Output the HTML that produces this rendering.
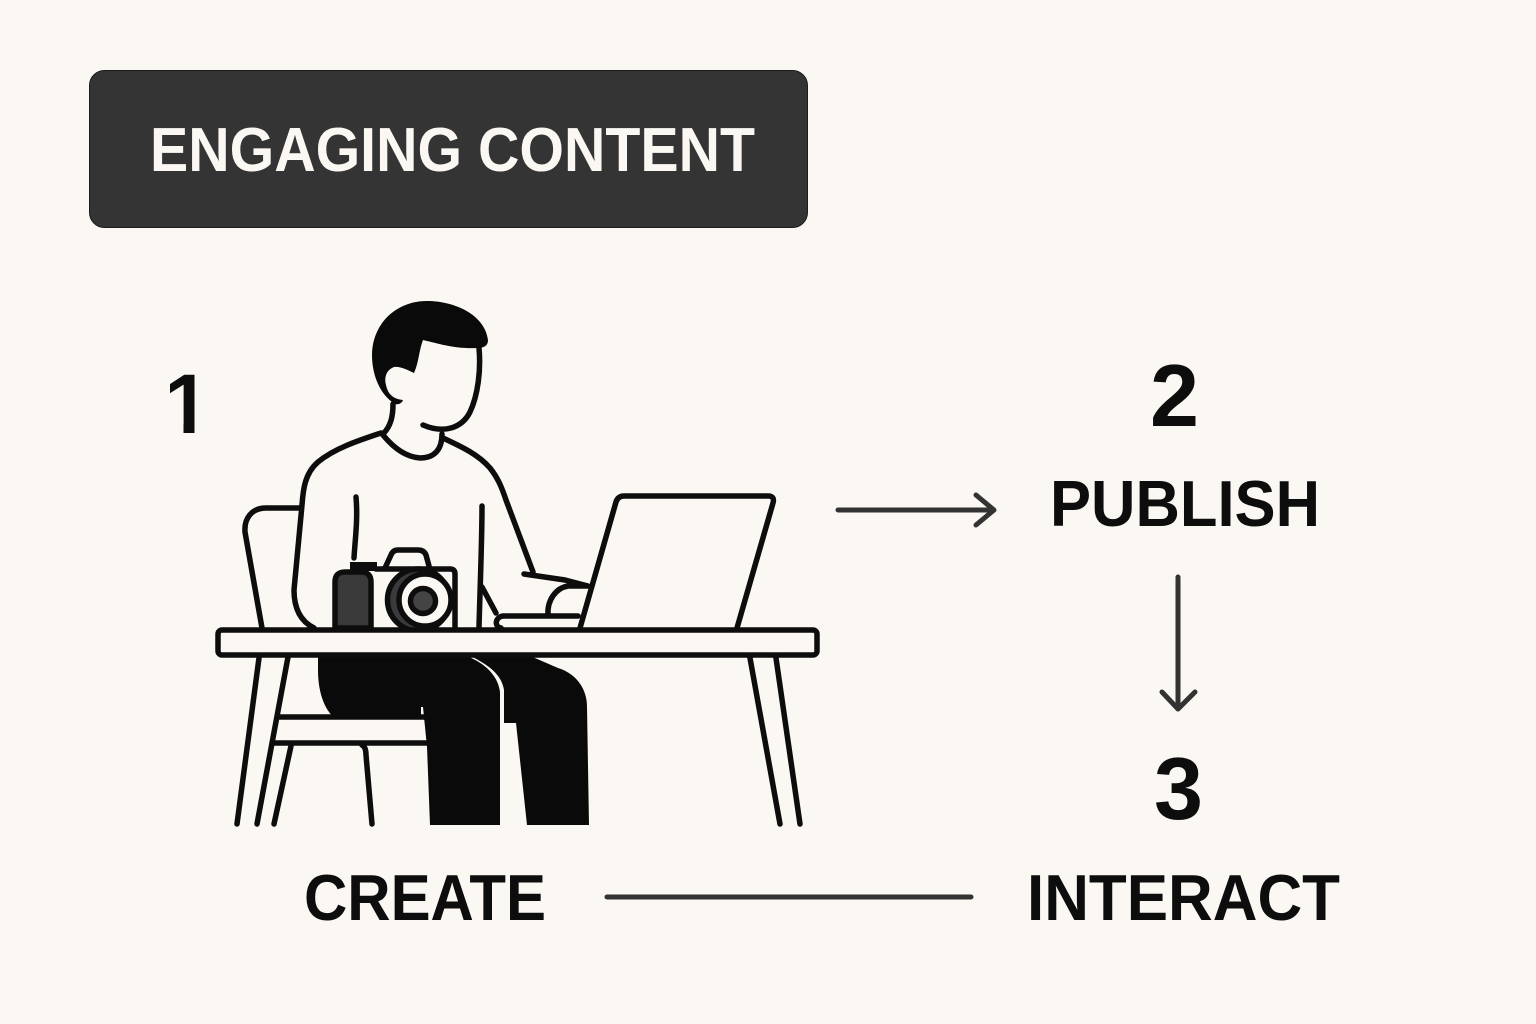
<!DOCTYPE html>
<html><head><meta charset="utf-8"><style>
html,body{margin:0;padding:0;background:#fbf7f2;width:1536px;height:1024px;overflow:hidden}
svg{display:block}
text{font-family:"Liberation Sans",sans-serif;font-weight:700;fill:#0d0d0d}
.l{fill:none;stroke:#0d0d0d;stroke-width:5.5;stroke-linecap:round;stroke-linejoin:round}
.a{fill:none;stroke:#333;stroke-width:5;stroke-linecap:round;stroke-linejoin:round}
.k{fill:#0a0a0a;stroke:none}
</style></head><body>
<svg width="1536" height="1024" viewBox="0 0 1536 1024" xmlns="http://www.w3.org/2000/svg">
<defs><clipPath id="one"><path d="M170 360H194.5V436H183.5V396H170Z"/></clipPath></defs>
<rect width="1536" height="1024" fill="#fbf7f2"/>
<rect x="89.5" y="70.5" width="718" height="157" rx="15" fill="#343434" stroke="#1c1c1c" stroke-width="1"/>
<text x="150" y="171" font-size="62" textLength="605" lengthAdjust="spacingAndGlyphs" style="fill:#fbf7f2">ENGAGING CONTENT</text>

<text x="164" y="433" font-size="84" clip-path="url(#one)">1</text>
<text x="1150" y="426" font-size="88" textLength="49" lengthAdjust="spacingAndGlyphs">2</text>
<text x="1154" y="819" font-size="88" textLength="49" lengthAdjust="spacingAndGlyphs">3</text>
<text x="1050" y="526" font-size="65" textLength="270" lengthAdjust="spacingAndGlyphs">PUBLISH</text>
<text x="304" y="920" font-size="65" textLength="242" lengthAdjust="spacingAndGlyphs">CREATE</text>
<text x="1027" y="920" font-size="65" textLength="313" lengthAdjust="spacingAndGlyphs">INTERACT</text>

<path class="a" d="M838 510H993M976 495L994 510L976 525"/>
<path class="a" d="M1178 577V708M1162 692L1178 709L1195 692"/>
<path class="a" d="M607 897H971"/>

<!-- chair -->
<path class="l" d="M300 508H266C252 508 244 518 245 532L262 628"/>
<path class="l" d="M288 657L257 824"/>
<path class="l" d="M279 717H425M273 743H427"/>
<path class="l" d="M291 746L274 824M362 745Q366 747 366 755L372 824"/>

<!-- person pants -->
<path class="k" d="M318 655H528L558 668C572 672 587 685 587 707L589 825H527L516 723H504V690C502 675 488 664 471 657C486 665 498 676 500 692V825H430L427 747L423 707H421V719H336C326 712 318 695 318 670Z"/>
<path d="M471 657C488 665 501 678 502 692V723" fill="none" stroke="#fbf7f2" stroke-width="1.5"/>

<!-- body -->
<path class="l" d="M381 433C360 440 335 448 318 462C304 474 303 492 302 505L294 590C294 610 302 622 314 628"/>
<path class="l" d="M443 438C460 446 478 454 490 468C498 478 502 488 506 500L533 572"/>
<path class="l" d="M383 435C392 446 405 457 420 458C432 458 442 452 442 434"/>
<path class="l" d="M393 404C393 416 391 426 383 434"/>
<path class="l" d="M479 348C481 370 478 395 470 412C462 428 444 434 423 425"/>
<path class="k" d="M427 301C455 301 485 315 488 340C488 346 484 348 477 348C455 349 440 344 423 340C419 350 419 362 414 373C408 370 400 366 394 367C386 370 384 378 386 385C388 395 394 399 403 400C402 403 399 405 395 404C380 395 372 375 372 355C372 325 395 301 427 301Z"/>
<path class="l" stroke-linecap="butt" d="M356 497C358 520 355 540 354 558"/>
<path class="l" d="M482 506C482 540 480 590 479 627"/>
<path class="l" d="M482 587L496 613"/>
<path class="l" d="M524 574L565 580L588 586H568C556 588 547 600 548 615"/>
<path class="l" d="M578 616H503C495 617 494 627 501 628"/>

<!-- laptop -->
<path class="l" d="M580 628L616 502Q618 496 624 496H768Q775 496 773 503L737 628" />

<!-- camera -->
<path class="l" d="M385 568L391 555Q393 550 398 550H418Q424 550 426 555L429 566"/>
<path class="l" fill="#fbf7f2" d="M376 569H450Q455 569 455 574V628"/>
<rect x="350" y="562" width="27" height="9" fill="#0d0d0d"/>
<path d="M335 628V582Q335 572 345 572H361Q371 572 371 582V628Z" fill="#3a3a3a" stroke="#0d0d0d" stroke-width="5.5"/>
<circle cx="418.5" cy="600" r="31" fill="#3a3a3a" stroke="#0d0d0d" stroke-width="5.5"/>
<circle cx="425" cy="600" r="26" fill="#fbf7f2" stroke="#0d0d0d" stroke-width="5.5"/>
<circle cx="423" cy="601" r="12.5" fill="#444" stroke="#0d0d0d" stroke-width="5.5"/>

<!-- table -->
<rect x="218" y="630" width="599" height="25" rx="4" fill="#fbf7f2" stroke="#0d0d0d" stroke-width="5.5"/>
<path class="l" d="M259 658L237 824M750 658L780 824M776 658L800 824"/>
</svg>
</body></html>
